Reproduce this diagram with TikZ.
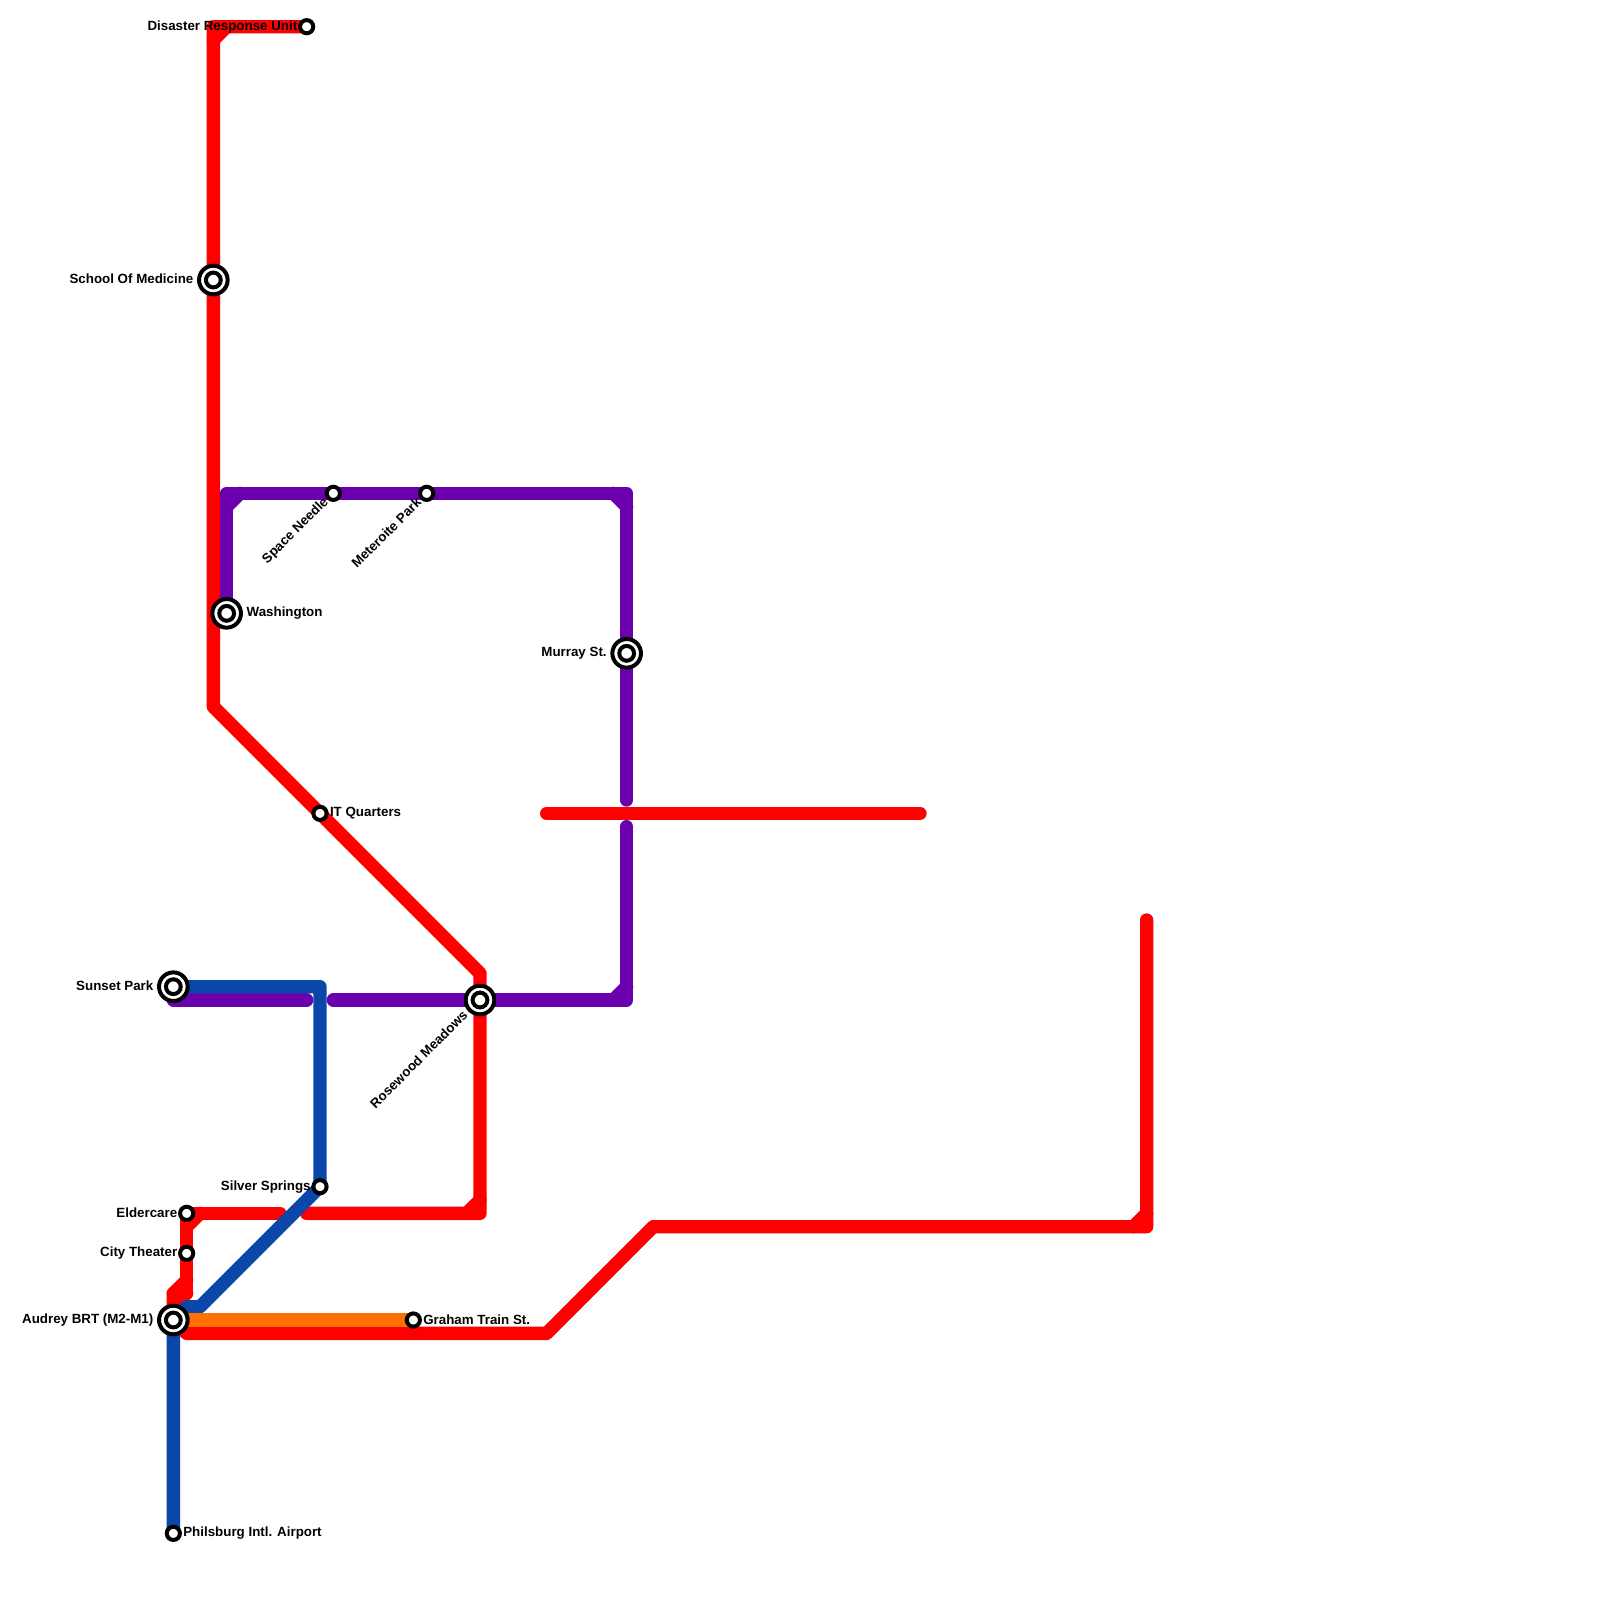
\documentclass[tikz,border=0pt]{standalone}
\usepackage{fontspec}
\setmainfont{Liberation Sans}
\definecolor{mred}{HTML}{FF0000}
\definecolor{mpurple}{HTML}{6A00AE}
\definecolor{mblue}{HTML}{0B47A8}
\definecolor{morange}{HTML}{FF7000}
\pgfdeclarelayer{lines}
\pgfsetlayers{lines,main}
\tikzset{
  metro/.style={line width=6.667pt,line cap=round,line join=round},
  redline/.style={metro,draw=mred},
  purpleline/.style={metro,draw=mpurple},
  blueline/.style={metro,draw=mblue},
  orangeline/.style={metro,draw=morange},
  stop/.style={circle,draw=black,fill=white,line width=2pt,minimum size=6.6pt,inner sep=0pt,outer sep=0pt},
  hubouter/.style={circle,draw=black,fill=white,line width=2pt,minimum size=14.3pt,inner sep=0pt,outer sep=0pt},
  hubinner/.style={circle,draw=black,fill=white,line width=2pt,minimum size=7.4pt,inner sep=0pt,outer sep=0pt},
  lbl/.style={inner sep=0pt,outer sep=0pt,text=black,font=\fontsize{6.67pt}{8pt}\selectfont\bfseries},
}
\newcommand{\hubnode}[2]{\node[hubouter] (#1) at (#2) {}; \node[hubinner] (#1-core) at (#2) {};}
\begin{document}
\begin{tikzpicture}[x=6.6667pt,y=-6.6667pt]
\useasboundingbox (0,0) rectangle (120,120);
% bends
\foreach \n/\p in {
  ra/{16,2},rb/{17,2},rc/{16,3},rd/{16,53},re/{36,73},rf/{36,91},rg/{36,90},rh/{35,91},ri/{23,91},
  sa/{21,91},sb/{15,91},sc/{14,92},sd/{14,96},se/{14,97},sf/{13,97},sg/{13,98},
  ta/{14,100},tb/{41,100},tc/{49,92},td/{86,92},te/{86,69},tf/{85,92},tg/{86,91},
  ua/{41,61},ub/{69,61},
  pa/{13,75},pb/{23,75},pc/{25,75},pd/{47,75},pe/{46,75},pf/{47,74},pg/{47,62},
  ph/{47,60},pi/{47,37},pj/{46,37},pk/{47,38},pl/{17,37},pm/{18,37},pn/{17,38},
  ba/{24,74},bb/{15,98},bc/{14,98}}
  {\coordinate (\n) at (\p);}
% stations
\node[stop] (disaster) at (23,2) {};
\hubnode{medicine}{16,21}
\hubnode{washington}{17,46}
\node[stop] (needle) at (25,37) {};
\node[stop] (meteorite) at (32,37) {};
\hubnode{murray}{47,49}
\node[stop] (quarters) at (24,61) {};
\hubnode{sunset}{13,74}
\hubnode{rosewood}{36,75}
\node[stop] (silver) at (24,89) {};
\node[stop] (eldercare) at (14,91) {};
\node[stop] (theater) at (14,94) {};
\hubnode{audrey}{13,99}
\node[stop] (graham) at (31,99) {};
\node[stop] (airport) at (13,115) {};
% lines
\begin{pgfonlayer}{lines}
\draw[redline] (disaster.center) -- (ra) -- (rd) -- (re) -- (rf) -- (ri);
\draw[redline] (rb) -- (rc);
\draw[redline] (rg) -- (rh);
\draw[redline] (sa) -- (eldercare.center) -- (se);
\draw[redline] (sb) -- (sc);
\draw[redline] (sd) -- (sf);
\draw[redline] (se) -- (sg);
\draw[redline] (sf) -- (audrey.center) -- (ta) -- (tb) -- (tc) -- (td) -- (te);
\draw[redline] (tf) -- (tg);
\draw[redline] (ua) -- (ub);
\draw[purpleline] (pa) -- (pb);
\draw[purpleline] (pc) -- (pd) -- (pg);
\draw[purpleline] (pe) -- (pf);
\draw[purpleline] (ph) -- (pi) -- (pl) -- (washington.center);
\draw[purpleline] (pj) -- (pk);
\draw[purpleline] (pm) -- (pn);
\draw[blueline] (sunset.center) -- (ba) -- (silver.center) -- (bb) -- (bc) -- (audrey.center) -- (airport.center);
\draw[orangeline] (audrey.center) -- (graham.center);
\end{pgfonlayer}
% labels
\node[lbl,anchor=east] (t1) at ([xshift=-4.7pt]disaster.center) {Disaster Response Unit};
\node[lbl,anchor=east] (t2) at ([xshift=-10pt,yshift=.4pt]medicine.center) {School Of Medicine};
\node[lbl,anchor=west] (t3) at ([xshift=10pt]washington.center) {Washington};
\node[lbl,anchor=east,rotate=45] (t4) at ([xshift=-3.5pt,yshift=-3.5pt]needle.center) {Space Needle};
\node[lbl,anchor=east,rotate=45] (t5) at ([xshift=-4pt,yshift=-3.5pt]meteorite.center) {Meteroite Park};
\node[lbl,anchor=east] (t6) at ([xshift=-10pt]murray.center) {Murray St.};
\node[lbl,anchor=west] (t7) at ([xshift=5pt]quarters.center) {IT Quarters};
\node[lbl,anchor=east] (t8) at ([xshift=-10pt,yshift=.4pt]sunset.center) {Sunset Park};
\node[lbl,anchor=east,rotate=45] (t9) at ([xshift=-7.5pt,yshift=-6.5pt]rosewood.center) {Rosewood Meadows};
\node[lbl,anchor=east] (t10) at ([xshift=-4.7pt]silver.center) {Silver Springs};
\node[lbl,anchor=east] (t11) at ([xshift=-4.7pt,yshift=.4pt]eldercare.center) {Eldercare};
\node[lbl,anchor=east] (t12) at ([xshift=-4.7pt]theater.center) {City Theater};
\node[lbl,anchor=east] (t13) at ([xshift=-10pt]audrey.center) {Audrey BRT (M2-M1)};
\node[lbl,anchor=west] (t14) at ([xshift=5pt]graham.center) {Graham Train St.};
\node[lbl,anchor=west] (t15) at ([xshift=5pt]airport.center) {Philsburg Intl. Airport};
\end{tikzpicture}
\end{document}
